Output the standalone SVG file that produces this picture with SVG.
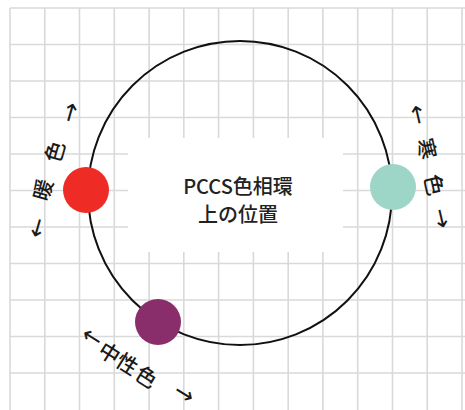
<svg xmlns="http://www.w3.org/2000/svg" width="465" height="410" viewBox="0 0 465 410">
<style>
.g{stroke:#d9d9d9;stroke-width:1.6;fill:none}
.lbl{font-family:"Noto Sans CJK JP","Noto Sans",sans-serif;font-size:21px;font-weight:500;fill:#1a1a1a;text-anchor:middle;dominant-baseline:central}
.arr{font-family:"DejaVu Sans",sans-serif;font-size:24px;fill:#1a1a1a;text-anchor:middle;dominant-baseline:central}
.title{font-family:"Noto Sans CJK JP","Noto Sans",sans-serif;font-size:20px;font-weight:500;fill:#222;text-anchor:middle}
</style>
<rect width="465" height="410" fill="#fff"/>
<g id="grid" class="g">
<path d="M10 8V410M44.8 8V410M79.5 8V410M114.3 8V410M149.1 8V410M183.8 8V410M218.6 8V410M253.4 8V410M288.2 8V410M322.9 8V410M357.7 8V410M392.5 8V410M427.2 8V410M462 8V410"/>
<path d="M10 8H465M10 44.5H465M10 81H465M10 117.5H465M10 154H465M10 190.5H465M10 227H465M10 263.5H465M10 300H465M10 336.5H465M10 373H465"/>
</g>
<g id="connectors">
<circle cx="240" cy="193" r="152" fill="none" stroke="#111" stroke-width="2"/>
</g>
<g id="center-box">
<rect x="128" y="138" width="215" height="114" fill="#fff"/>
<text class="title" x="238" y="194">PCCS色相環</text>
<text class="title" x="238" y="222">上の位置</text>
</g>
<g id="warm">
<circle cx="86" cy="190" r="23" fill="#ee2b24"/>
<g transform="translate(53.5 170) rotate(-74)">
<text class="arr" x="-60" y="0">←</text>
<text class="lbl" x="-22" y="-6">暖</text>
<text class="lbl" x="18" y="-5">色</text>
<text class="arr" x="60" y="0">→</text>
</g>
</g>
<g id="cool">
<circle cx="393" cy="187" r="23" fill="#9dd6c6"/>
<g transform="translate(430 166.5) rotate(77)">
<text class="arr" x="-53" y="0">←</text>
<text class="lbl" x="-18" y="-2">寒</text>
<text class="lbl" x="19" y="-1">色</text>
<text class="arr" x="53" y="0">→</text>
</g>
</g>
<g id="neutral">
<circle cx="158" cy="322" r="23" fill="#8a2d6b"/>
<g transform="translate(128 363) rotate(32)">
<text class="arr" x="-44" y="-3">←</text>
<text class="lbl" x="-21" y="0">中</text>
<text class="lbl" x="0" y="0">性</text>
<text class="lbl" x="23" y="1">色</text>
<text class="arr" x="64" y="-4">→</text>
</g>
</g>
</svg>
